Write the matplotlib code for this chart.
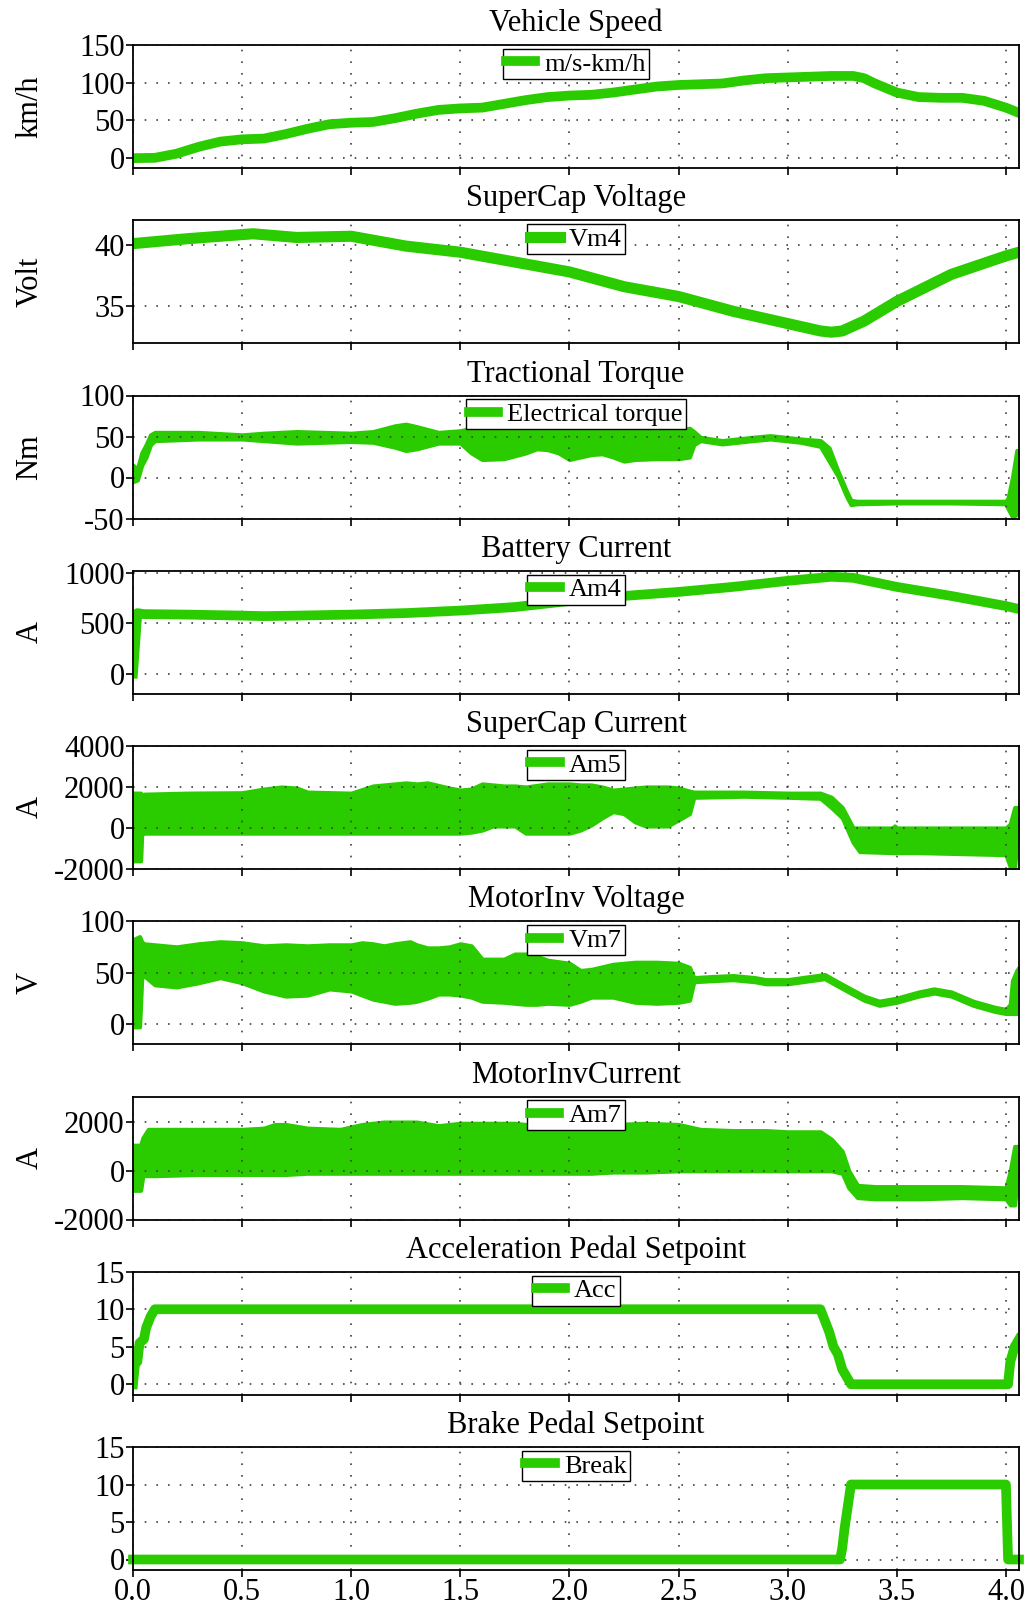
import matplotlib
matplotlib.use('Agg')
import matplotlib.pyplot as plt
import numpy as np

plt.rcParams['font.family'] = ['Liberation Serif', 'DejaVu Serif']
plt.rcParams['axes.unicode_minus'] = False

GREEN = '#2ACC00'

# ---- data (time in s) ----
# vehicle speed
t_spd = [0.0, 0.1, 0.2, 0.3, 0.4, 0.5, 0.6, 0.7, 0.8, 0.9, 1.0, 1.1, 1.2, 1.3, 1.4, 1.5,
         1.6, 1.7, 1.8, 1.9, 2.0, 2.1, 2.2, 2.3, 2.4, 2.5, 2.6, 2.7, 2.8, 2.9, 3.0, 3.1,
         3.2, 3.3, 3.35, 3.4, 3.5, 3.6, 3.7, 3.8, 3.9, 4.0, 4.06]
speed = [0, 0.5, 6, 15, 22, 25, 26, 32, 39, 45, 47, 48, 53, 59, 64, 66,
         67, 72, 77, 81, 83, 84, 87, 91, 95, 97, 98, 99, 103, 106, 107, 108,
         109, 109, 106, 99, 87, 81, 80, 80, 76, 67, 60]

# supercap voltage
t_vsc = [0.0, 0.25, 0.55, 0.75, 1.0, 1.25, 1.5, 1.75, 2.0, 2.25, 2.5, 2.75, 3.0, 3.15,
         3.2, 3.25, 3.35, 3.5, 3.75, 4.0, 4.06]
v_sc = [40.1, 40.5, 40.9, 40.6, 40.7, 39.9, 39.4, 38.6, 37.8, 36.6, 35.8, 34.6, 33.6, 33.0,
        32.9, 33.0, 33.8, 35.4, 37.6, 39.1, 39.4]

# tractional torque envelope
t_trq = [0.0, 0.02, 0.04, 0.06, 0.08, 0.1, 0.3, 0.5, 0.6, 0.75, 1.0, 1.1, 1.2, 1.25, 1.3,
         1.4, 1.5, 1.55, 1.6, 1.7, 1.8, 1.85, 1.9, 1.95, 2.0, 2.05, 2.1, 2.15, 2.2, 2.25,
         2.3, 2.4, 2.5, 2.55, 2.57, 2.6, 2.7, 2.84, 2.92, 3.06, 3.15, 3.19, 3.23, 3.27,
         3.29, 3.32, 3.5, 3.75, 4.0, 4.01, 4.03, 4.05, 4.06]
trq_hi = [15, 10, 30, 40, 52, 55, 55, 52, 54, 56, 54, 56, 63, 65, 62,
          55, 57, 60, 60, 60, 60, 60, 59, 58, 58, 58, 58, 58, 58, 58,
          58, 58, 58, 60, 56, 49, 45, 49, 51, 47, 45, 36, 8, -17,
          -28, -29, -29, -29, -29, -25, 0, 33, 30]
trq_lo = [-5, -3, 15, 25, 40, 45, 47, 47, 45, 42, 44, 43, 37, 33, 35,
          42, 42, 30, 22, 23, 30, 35, 34, 30, 22, 25, 28, 29, 25, 20,
          22, 23, 23, 25, 40, 45, 41, 45, 47, 43, 38, 20, 2, -23,
          -33, -32, -31, -31, -32, -38, -48, -45, 25]

# battery current
t_bat = [0.0, 0.02, 0.05, 0.25, 0.5, 0.6, 0.75, 1.0, 1.25, 1.5, 1.75, 2.0, 2.25, 2.5,
         2.75, 3.0, 3.2, 3.3, 3.5, 3.75, 4.0, 4.06]
i_bat = [0, 600, 590, 585, 575, 570, 575, 585, 600, 625, 660, 720, 770, 810,
         860, 920, 960, 950, 860, 770, 670, 640]

# supercap current envelope
t_isc = [0.0, 0.035, 0.04, 0.05, 0.25, 0.5, 0.6, 0.68, 0.75, 0.8, 1.0, 1.1, 1.25, 1.3,
         1.35, 1.45, 1.5, 1.55, 1.6, 1.65, 1.7, 1.75, 1.8, 1.9, 2.0, 2.05, 2.1, 2.15,
         2.2, 2.25, 2.3, 2.35, 2.4, 2.45, 2.5, 2.55, 2.57, 2.8, 3.0, 3.15, 3.2, 3.25,
         3.3, 3.33, 3.48, 3.49, 3.5, 3.6, 4.0, 4.02, 4.04, 4.06]
isc_hi = [1700, 1700, 1300, 1650, 1700, 1720, 1900, 2000, 1950, 1750, 1700, 2050, 2200, 2150,
          2200, 1950, 1850, 1900, 2150, 2100, 2050, 2050, 2000, 2150, 2150, 2100, 2100, 2000,
          1850, 1900, 1950, 2000, 2000, 2000, 1950, 1800, 1750, 1750, 1700, 1700, 1500, 1000,
          0, 0, 0, 100, 0, 0, 0, 200, 1000, 1000]
isc_lo = [-1600, -1600, -250, -250, -250, -250, -250, -250, -250, -250, -250, -250, -250, -250,
          -250, -250, -250, -200, -100, 100, 100, 100, -250, -250, -250, -100, 150, 500,
          800, 700, 300, 100, 100, 100, 400, 700, 1500, 1550, 1500, 1450, 1000, 500,
          -700, -1150, -1200, -1200, -1200, -1200, -1300, -1900, -1900, 500]

# motor inverter voltage envelope
t_vmi = [0.0, 0.03, 0.04, 0.05, 0.1, 0.2, 0.3, 0.4, 0.5, 0.6, 0.7, 0.8, 0.9, 1.0, 1.05,
         1.1, 1.15, 1.2, 1.27, 1.3, 1.35, 1.4, 1.45, 1.5, 1.55, 1.6, 1.7, 1.75, 1.8, 1.85,
         1.9, 2.0, 2.05, 2.1, 2.2, 2.3, 2.4, 2.5, 2.55, 2.57, 2.65, 2.75, 2.85, 2.9, 3.0,
         3.1, 3.17, 3.22, 3.28, 3.35, 3.42, 3.5, 3.6, 3.67, 3.75, 3.85, 3.95, 4.0, 4.02,
         4.03, 4.05, 4.06]
vmi_hi = [82, 85, 80, 78, 77, 75, 78, 80, 79, 76, 77, 76, 77, 77, 79,
          78, 76, 78, 80, 77, 74, 74, 75, 78, 76, 63, 63, 68, 68, 66,
          62, 59, 52, 53, 58, 60, 60, 59, 55, 45, 46, 47, 45, 43, 43,
          46, 48, 42, 35, 27, 22, 25, 31, 34, 31, 22, 16, 14, 19,
          42, 52, 55]
vmi_lo = [-3, -3, 45, 47, 38, 36, 40, 45, 40, 32, 27, 28, 34, 32, 28,
          24, 22, 20, 21, 22, 25, 29, 29, 28, 26, 22, 21, 20, 19, 19,
          20, 19, 22, 26, 26, 21, 20, 21, 23, 41, 42, 43, 41, 39, 39,
          42, 44, 38, 31, 23, 18, 21, 27, 30, 27, 18, 12, 10, 10,
          10, 10, 50]

# motor inverter current envelope
t_imi = [0.0, 0.035, 0.045, 0.07, 0.1, 0.3, 0.5, 0.6, 0.65, 0.7, 0.8, 0.95, 1.05, 1.15,
         1.3, 1.4, 1.5, 1.75, 1.85, 1.95, 2.0, 2.1, 2.2, 2.35, 2.5, 2.6, 2.75, 2.9, 3.0,
         3.15, 3.2, 3.25, 3.28, 3.32, 3.4, 3.6, 3.8, 4.0, 4.02, 4.04, 4.06]
imi_hi = [1050, 1050, 1350, 1700, 1700, 1700, 1700, 1750, 1900, 1900, 1750, 1700, 1900, 2000,
          2000, 1850, 1950, 1950, 1850, 1900, 1950, 1950, 1900, 1950, 1900, 1700, 1650, 1650, 1600,
          1600, 1300, 800, 0, -600, -650, -650, -650, -700, 0, 1000, 1000]
imi_lo = [-800, -800, -200, -200, -200, -150, -150, -150, -150, -150, -100, -100, -100, -100,
          -100, -100, -100, -100, -100, -100, -100, -100, -50, -50, 0, 0, 0, 0, 0,
          0, 0, -100, -700, -1100, -1150, -1150, -1100, -1150, -1400, -1400, 500]

# pedal setpoints
t_acc = [0.0, 0.01, 0.02, 0.03, 0.05, 0.06, 0.08, 0.1, 3.15, 3.17, 3.19, 3.21, 3.23, 3.25,
         3.27, 3.29, 4.01, 4.02, 4.04, 4.06]
acc = [0, 3, 3, 5.5, 6, 7.5, 9, 10, 10, 8.5, 7, 5, 4, 2, 1, 0, 0, 3, 5, 6]
t_brk = [0.0, 3.24, 3.25, 3.26, 3.27, 3.28, 3.29, 4.0, 4.01, 4.06]
brk = [0, 0, 1.5, 4, 6, 8, 10, 10, 0, 0]

titles = ['Vehicle Speed', 'SuperCap Voltage', 'Tractional Torque', 'Battery Current',
          'SuperCap Current', 'MotorInv Voltage', 'MotorInvCurrent',
          'Acceleration Pedal Setpoint', 'Brake Pedal Setpoint']
ylabels = ['km/h', 'Volt', 'Nm', 'A', 'A', 'V', 'A', '', '']
legends = ['m/s-km/h', 'Vm4', 'Electrical torque', 'Am4', 'Am5', 'Vm7', 'Am7', 'Acc', 'Break']
ylims = [(-13, 150), (32.0, 42.0), (-50, 100), (-200, 1020), (-2000, 4000),
         (-20, 100), (-2000, 3050), (-1.4, 15), (-1.4, 15)]
yticks = [[0, 50, 100, 150], [35, 40], [-50, 0, 50, 100], [0, 500, 1000],
          [-2000, 0, 2000, 4000], [0, 50, 100], [-2000, 0, 2000],
          [0, 5, 10, 15], [0, 5, 10, 15]]

W, H = 1027, 1609
fig = plt.figure(figsize=(W / 100, H / 100), dpi=100)

FS = 22
axes = []
for i in range(9):
    top = 45 + i * 175.25
    ax = fig.add_axes([133 / W, 1 - (top + 123) / H, 886 / W, 123 / H])
    axes.append(ax)

lines = [
    ('line', t_spd, speed, 7),
    ('line', t_vsc, v_sc, 8),
    ('band', t_trq, trq_lo, trq_hi),
    ('line', t_bat, i_bat, 7),
    ('band', t_isc, isc_lo, isc_hi),
    ('band', t_vmi, vmi_lo, vmi_hi),
    ('band', t_imi, imi_lo, imi_hi),
    ('line', t_acc, acc, 7),
    ('line', t_brk, brk, 7),
]

for i, ax in enumerate(axes):
    kind = lines[i][0]
    if kind == 'line':
        _, t, y, lw = lines[i]
        ax.plot(t, y, color=GREEN, lw=lw, solid_joinstyle='round',
                label=legends[i], clip_on=(i != 8))
    else:
        _, t, lo, hi = lines[i]
        ax.fill_between(t, lo, hi, color=GREEN, lw=3, edgecolor=GREEN, joinstyle='round')
        ax.plot([], [], color=GREEN, lw=7, label=legends[i])

    ax.set_xlim(0, 4.06)
    ax.set_ylim(*ylims[i])
    ax.set_yticks(yticks[i])
    ax.set_xticks(np.arange(0, 4.01, 0.5))
    ax.grid(True, color='0.25', linestyle=(0, (1, 6)), linewidth=1.2)
    ax.tick_params(direction='out', length=5, width=1.2, labelsize=FS, pad=1)
    for s in ax.spines.values():
        s.set_linewidth(1.3)
    ax.set_title(titles[i], fontsize=FS, pad=10)
    if ylabels[i]:
        ax.set_ylabel(ylabels[i], fontsize=FS)
        ax.yaxis.set_label_coords(-0.10, 0.5)
    if i < 8:
        ax.tick_params(labelbottom=False)
    else:
        ax.set_xticklabels(['%.1f' % v for v in np.arange(0, 4.01, 0.5)])
    leg = ax.legend(loc='upper center', fontsize=19, frameon=True, fancybox=False,
                    framealpha=1, edgecolor='black', borderpad=0.12, handlelength=1.1,
                    handletextpad=0.35, borderaxespad=0.15)
    leg.get_frame().set_linewidth(1.0)

fig.savefig('out.png', dpi=100)
